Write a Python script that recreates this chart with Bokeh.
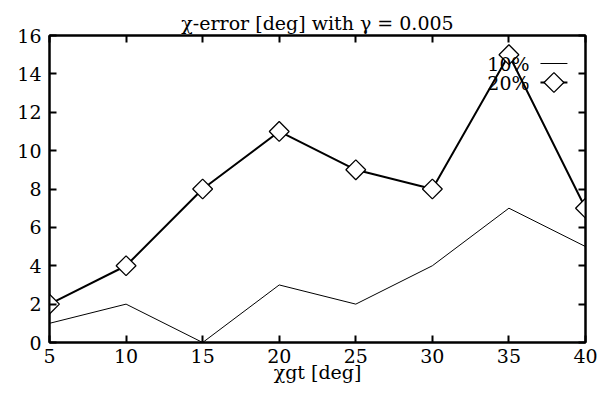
import numpy as np
from bokeh.plotting import figure
from bokeh.models import Range1d, LinearAxis, Label, FixedTicker
from bokeh.embed import file_html
from bokeh.resources import INLINE

chi_gt = [5, 10, 15, 20, 25, 30, 35, 40]
err_10 = [1, 2, 0, 3, 2, 4, 7, 5]
err_20 = [2, 4, 8, 11, 9, 8, 15, 7]
x_ticks = [5, 10, 15, 20, 25, 30, 35, 40]
y_ticks = [0, 2, 4, 6, 8, 10, 12, 14, 16]
series_names = ["10%", "20%"]

FONT = "DejaVu Serif"
FS = "19px"

p = figure(width=609, height=400, output_backend="svg", toolbar_location=None,
           x_range=Range1d(5, 40), y_range=Range1d(0, 16),
           min_border_left=49, min_border_right=24, min_border_top=35, min_border_bottom=58)
p.background_fill_color = "white"
p.border_fill_color = "white"
p.xgrid.visible = False
p.ygrid.visible = False
p.outline_line_color = "black"
p.outline_line_width = 2

p.title.text = "χ-error [deg] with γ = 0.005"
p.title.align = "center"
p.title.vertical_align = "top"
p.title.text_font = FONT
p.title.text_font_size = FS
p.title.text_font_style = "normal"
p.title.text_color = "black"
p.title.standoff = 0

for ax in (p.xaxis[0], p.yaxis[0]):
    ax.major_tick_in = 7
    ax.major_tick_out = 0
    ax.minor_tick_in = 0
    ax.minor_tick_out = 0
    ax.axis_line_width = 2
    ax.major_tick_line_width = 2
    ax.major_label_text_font = FONT
    ax.major_label_text_font_size = FS
    ax.major_label_text_color = "black"
p.xaxis[0].ticker = FixedTicker(ticks=x_ticks)
p.yaxis[0].ticker = FixedTicker(ticks=y_ticks)
p.xaxis[0].major_label_standoff = 6
p.yaxis[0].major_label_standoff = 8

xa = p.xaxis[0]
xa.axis_label = "χgt [deg]"
xa.axis_label_text_font = FONT
xa.axis_label_text_font_size = FS
xa.axis_label_text_font_style = "normal"
xa.axis_label_text_color = "black"
xa.axis_label_standoff = -5

for loc, tks in (("above", x_ticks), ("right", y_ticks)):
    a = LinearAxis(ticker=FixedTicker(ticks=tks))
    a.major_tick_in = 7
    a.major_tick_out = 0
    a.minor_tick_in = 0
    a.minor_tick_out = 0
    a.axis_line_width = 2
    a.major_tick_line_width = 2
    a.major_label_text_font_size = "0px"
    a.major_label_text_alpha = 0
    p.add_layout(a, loc)

# data
p.line(chi_gt, err_10, line_color="black", line_width=1)
p.line(chi_gt, err_20, line_color="black", line_width=2)
p.scatter(chi_gt, err_20, marker="square", angle=np.pi / 4, size=14,
          fill_color="white", line_color="black", line_width=1.3)

# legend (gnuplot style: text left, sample right)
lx0, lx1 = 37.06, 38.82
ly = [14.54, 13.55]
p.line([lx0, lx1], [ly[0], ly[0]], line_color="black", line_width=1)
p.line([lx0, lx1], [ly[1], ly[1]], line_color="black", line_width=2)
p.scatter([(lx0 + lx1) / 2], [ly[1]], marker="square", angle=np.pi / 4, size=14,
          fill_color="white", line_color="black", line_width=1.3)
for name, yy in zip(series_names, ly):
    p.add_layout(Label(x=36.35, y=yy, text=name, text_align="right", text_baseline="middle",
                       text_font=FONT, text_font_size=FS, text_color="black"))

open("out.html", "w").write(file_html(p, INLINE))
